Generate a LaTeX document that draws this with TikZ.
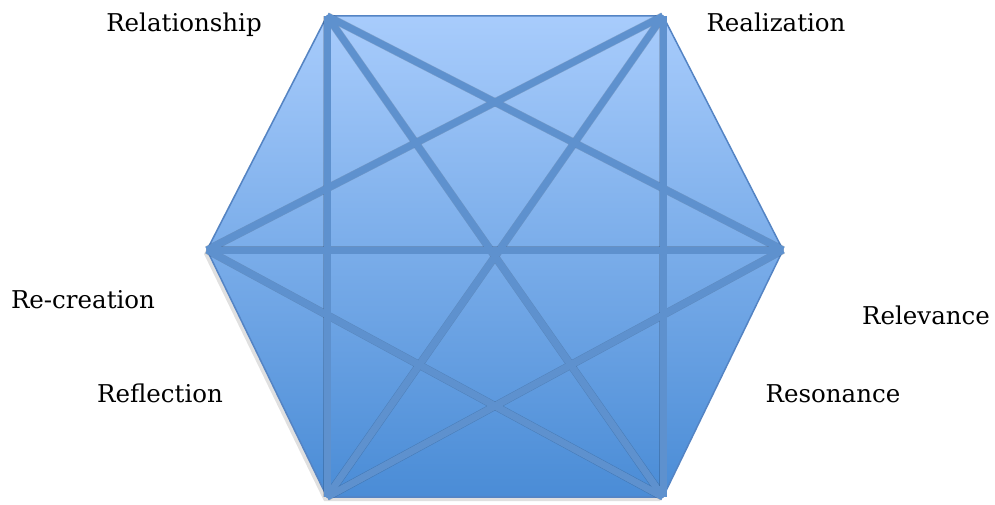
\documentclass[tikz,border=0pt]{standalone}
\usepackage{fontspec}
\setmainfont{DejaVu Serif}
\begin{document}
\begin{tikzpicture}[x=1pt,y=-1pt,
  lbl/.style={anchor=base,inner sep=0pt,font=\fontsize{24.5}{28}\selectfont,text=black},
  bar/.style={draw=barblue,line width=7pt,line cap=butt},
  barshadow/.style={draw=black,opacity=0.16,line width=8pt,line cap=butt}]
\definecolor{toplight}{RGB}{168,204,252}
\definecolor{botdark}{RGB}{74,140,214}
\definecolor{barblue}{RGB}{94,145,206}
\definecolor{edgeblue}{RGB}{84,132,196}
\useasboundingbox (0,0) rectangle (995,505);
\coordinate (TL) at (327,16);
\coordinate (TR) at (663,16);
\coordinate (R) at (783,250);
\coordinate (BR) at (663,497);
\coordinate (BL) at (327,497);
\coordinate (L) at (207,250);
% hexagon shadow
\fill[black,opacity=0.12] ([shift={(-3,4)}]TL) -- ([shift={(-3,4)}]TR) -- ([shift={(-3,4)}]R) -- ([shift={(-3,4)}]BR) -- ([shift={(-3,4)}]BL) -- ([shift={(-3,4)}]L) -- cycle;
\shade[top color=toplight,bottom color=botdark] (TL) -- (TR) -- (R) -- (BR) -- (BL) -- (L) -- cycle;
\draw[edgeblue,line width=1.5pt,line join=miter] (TL) -- (TR) -- (R) -- (BR) -- (BL) -- (L) -- cycle;
% bar shadows
\begin{scope}[shift={(0,2.5)}]
\foreach \a/\b in {TL/BL,TL/R,TL/BR,TR/L,TR/BL,TR/BR,L/R,L/BR,R/BL}
  \draw[barshadow] (\a) -- (\b);
\end{scope}
% bars
\foreach \a/\b in {TL/BL,TL/R,TL/BR,TR/L,TR/BL,TR/BR,L/R,L/BR,R/BL}
  \draw[bar] (\a) -- (\b);
% labels
\node[lbl] (rel) at (184,32) {Relationship};
\node[lbl] (rea) at (776,32) {Realization};
\node[lbl] (rec) at (83,308) {Re-creation};
\node[lbl] (rev) at (926,324) {Relevance};
\node[lbl] (ref) at (160,402) {Reflection};
\node[lbl] (res) at (833,402) {Resonance};
\end{tikzpicture}
\end{document}
